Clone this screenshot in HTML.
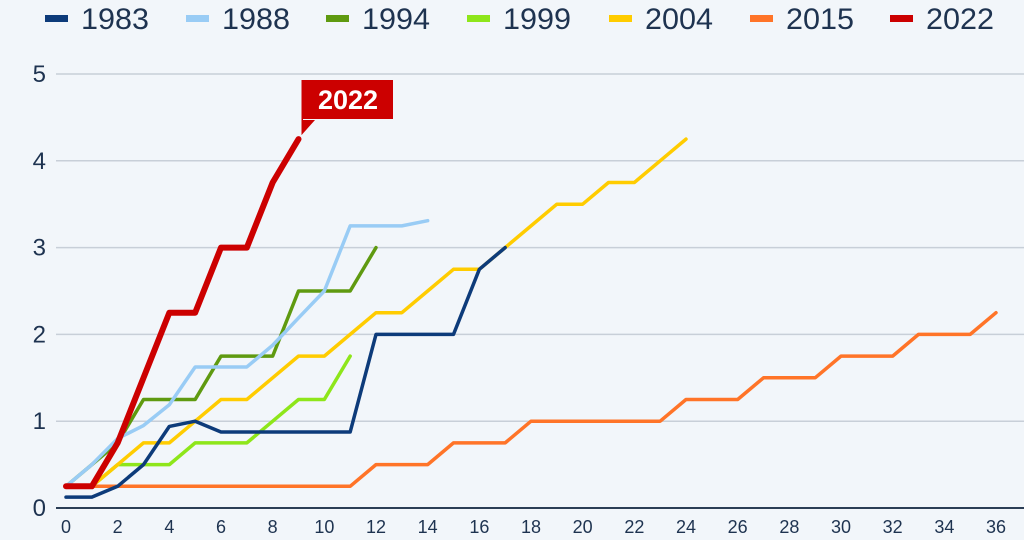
<!DOCTYPE html>
<html><head><meta charset="utf-8"><style>
body{margin:0;background:#f2f6fa;font-family:"Liberation Sans","DejaVu Sans",sans-serif;}
svg{display:block}
</style></head><body>
<svg id="c" width="1024" height="540"></svg>
<script>
const years=["1983","1988","1994","1999","2004","2015","2022"];
const colors=["#0d3b7a","#99ccf5","#5f9a10","#8ee61a","#ffcc00","#ff7428","#cc0000"];
const s1983=[0.125,0.125,0.25,0.5,0.94,1.0,0.875,0.875,0.875,0.875,0.875,0.875,2,2,2,2,2.75,3];
const s1988=[0.25,0.5,0.8,0.95,1.19,1.625,1.625,1.625,1.875,2.19,2.5,3.25,3.25,3.25,3.31];
const s1994=[0.25,0.5,0.75,1.25,1.25,1.25,1.75,1.75,1.75,2.5,2.5,2.5,3];
const s1999=[0.25,0.25,0.5,0.5,0.5,0.75,0.75,0.75,1.0,1.25,1.25,1.75];
const s2004=[0.25,0.25,0.5,0.75,0.75,1,1.25,1.25,1.5,1.75,1.75,2,2.25,2.25,2.5,2.75,2.75,3,3.25,3.5,3.5,3.75,3.75,4,4.25];
const s2015=[0.25,0.25,0.25,0.25,0.25,0.25,0.25,0.25,0.25,0.25,0.25,0.25,0.5,0.5,0.5,0.75,0.75,0.75,1,1,1,1,1,1,1.25,1.25,1.25,1.5,1.5,1.5,1.75,1.75,1.75,2,2,2,2.25];
const s2022=[0.25,0.25,0.75,1.5,2.25,2.25,3,3,3.75,4.25];
const yTicks=[0,1,2,3,4,5];
const xTicks=[0,2,4,6,8,10,12,14,16,18,20,22,24,26,28,30,32,34,36];
const series=[s2015,s1999,s2004,s1983,s1994,s1988,s2022];
const order=[5,3,4,0,2,1,6];
const NS="http://www.w3.org/2000/svg";
const svg=document.getElementById('c');
const X=v=>66+v*(996-66)/36, Y=v=>508-v*(508-74)/5;
function mk(t,a,p){const e=document.createElementNS(NS,t);for(const k in a)e.setAttribute(k,a[k]);(p||svg).appendChild(e);return e;}
yTicks.forEach(v=>{
 const g=mk('line',{x1:56,x2:1024,y1:Y(v),y2:Y(v),stroke:v===0?'#2b3e55':'#c8cfd8','stroke-width':v===0?2:1.5});
 
 
 const t=mk('text',{x:46,y:Y(v)+8,'text-anchor':'end','font-size':24,fill:'#1e3350'});t.textContent=v;
 
 
});
xTicks.forEach(v=>{
 const t=mk('text',{x:X(v),y:533,'text-anchor':'middle','font-size':18,fill:'#1e3350'});t.textContent=v;
 
 
});
order.forEach((ci,i)=>{
 const d=series[i].map((v,k)=>(k?'L':'M')+X(k)+','+Y(v)).join('');
 const p=mk('path',{d:d,fill:'none',stroke:colors[ci],'stroke-width':ci===6?6:3.5,'stroke-linejoin':'round','stroke-linecap':'round'});
 
 
});
const lx=X(s2022.length-1), ly=Y(s2022[s2022.length-1]);
const cg=mk('g',{});


mk('path',{d:`M${lx+3},${ly-4} L${lx+3},80 L303,80 L303,120 L315,120 Z`,fill:'#cc0000'},cg);
mk('rect',{x:303,y:80,width:90,height:39,fill:'#cc0000'},cg);
const ct=mk('text',{x:348,y:109,'text-anchor':'middle','font-size':27,'font-weight':'bold',fill:'#fff'},cg);ct.textContent='2022';
const lxs=[45,186,326,467,609,750,890];
years.forEach((y,i)=>{
 const g=mk('g',{});
 
 
 mk('rect',{x:lxs[i],y:15,width:23,height:7,fill:colors[i]},g);
 const t=mk('text',{x:lxs[i]+36,y:29,'font-size':30,fill:'#1e3350',textLength:68,lengthAdjust:'spacingAndGlyphs'},g);t.textContent=y;
});
</script>
</body></html>
